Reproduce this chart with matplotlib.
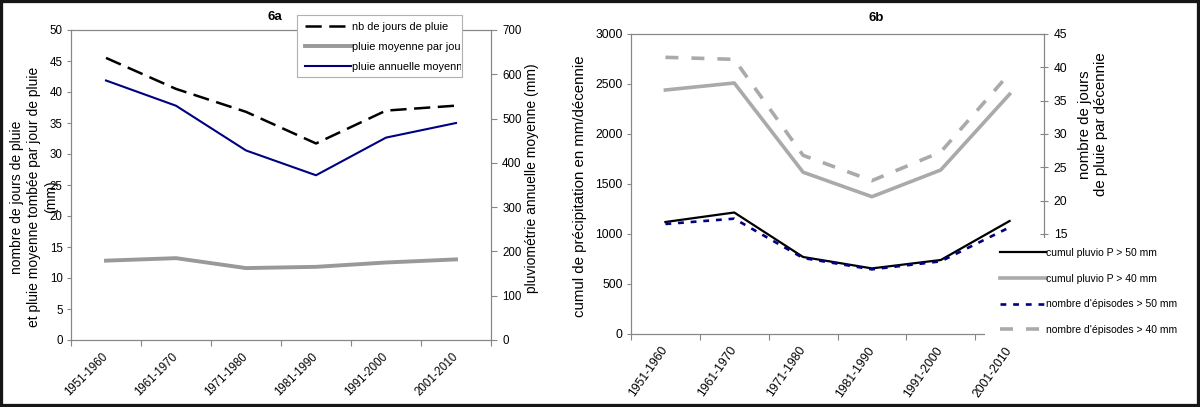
import matplotlib
matplotlib.use("Agg")
import matplotlib.pyplot as plt
from matplotlib.patches import Rectangle
from matplotlib.transforms import Bbox, TransformedBbox

plt.rcParams['font.family'] = ['Liberation Sans', 'DejaVu Sans']

# ---------------- data ----------------
decades = ["1951-1960", "1961-1970", "1971-1980", "1981-1990", "1991-2000", "2001-2010"]

# 6a
nb_jours_pluie = [45.5, 40.5, 36.8, 31.7, 37.0, 37.8]
pluie_moy_jour = [12.8, 13.2, 11.6, 11.8, 12.5, 13.0]
pluie_annuelle = [586, 529, 428, 372, 457, 490]

# 6b
cumul_50 = [1120, 1215, 770, 656, 740, 1130]
cumul_40 = [2440, 2510, 1618, 1373, 1640, 2398]
episodes_50 = [16.5, 17.3, 11.4, 9.7, 10.9, 16.0]
episodes_40 = [41.5, 41.2, 26.8, 23.0, 27.3, 39.1]

W, H = 1200, 407
fig = plt.figure(figsize=(W / 100, H / 100), dpi=100)
fig.patch.set_facecolor('white')

SP = '#868686'

def fx(px):
    return px / W

def fy(py):
    return 1 - py / H

def style_axes(ax, xs, tick_fs, rot, pad):
    ax.set_xlim(-0.5, len(xs) - 0.5)
    ax.set_xticks(range(len(xs)))
    ax.set_xticklabels(xs, rotation=rot, ha='right', va='center',
                       rotation_mode='anchor', fontsize=tick_fs)
    ax.set_xticks([i - 0.5 for i in range(len(xs) + 1)], minor=True)
    ax.tick_params(axis='x', which='major', length=0, pad=pad)
    ax.tick_params(axis='x', which='minor', length=4, color=SP, width=0.8, direction='out')
    for s in ax.spines.values():
        s.set_color(SP)
        s.set_linewidth(0.8)
    ax.tick_params(axis='y', length=3, color=SP, width=0.8, labelsize=tick_fs, pad=3)

x = list(range(len(decades)))

# ---------------- 6a ----------------
FS_A = 8.3
ax1 = fig.add_axes([fx(71), fy(340), fx(491 - 71), (340 - 30) / H])
style_axes(ax1, decades, FS_A, 45, 11)
ax1.set_ylim(0, 50)
ax1.set_yticks(range(0, 51, 5))
l1, = ax1.plot(x, nb_jours_pluie, color='black', lw=1.8, ls=(0, (6.5, 3)),
               label='nb de jours de pluie')
l2, = ax1.plot(x, pluie_moy_jour, color='#999999', lw=2.8,
               label='pluie moyenne par jour')
ax1.set_ylabel("nombre de jours de pluie\net pluie moyenne tombée par jour de pluie\n(mm)",
               fontsize=10, va='center', linespacing=1.25)
ax1.yaxis.set_label_coords((34 - 71) / 420, (340 - 197) / 310)

ax1r = ax1.twinx()
ax1r.set_ylim(0, 700)
ax1r.set_yticks(range(0, 701, 100))
for s in ax1r.spines.values():
    s.set_color(SP)
    s.set_linewidth(0.8)
ax1r.tick_params(axis='y', length=4, color=SP, width=0.8, labelsize=FS_A, pad=4)
l3, = ax1r.plot(x, pluie_annuelle, color='#000080', lw=1.5,
                label='pluie annuelle moyenne')
ax1r.set_ylabel("pluviométrie annuelle moyenne (mm)", fontsize=10,
                va='center', rotation=90)
ax1r.yaxis.set_label_coords((532 - 71) / 420, (340 - 178) / 310)

fig.text(fx(275), fy(17), "6a", ha='center', va='center', fontsize=9.5, fontweight='bold')

# legend box 6a
fig.add_artist(Rectangle((fx(297), fy(77)), fx(462 - 297), (77 - 15) / H,
                         transform=fig.transFigure, facecolor='white',
                         edgecolor='#b0b0b0', lw=0.8, zorder=2))
leg1 = fig.legend(handles=[l1, l2, l3], loc='upper left',
                  bbox_to_anchor=(fx(305), fy(22)), frameon=False,
                  fontsize=7.9, borderpad=0, borderaxespad=0,
                  handlelength=4.2, handletextpad=0.05, labelspacing=0.92)
leg1.set_zorder(6)
clip1 = TransformedBbox(Bbox.from_extents(fx(297), fy(77), fx(461), fy(15)), fig.transFigure)
for t in leg1.get_texts():
    t.set_clip_box(clip1)
    t.set_clip_on(True)

# ---------------- 6b ----------------
FS_B = 8.7
ax2 = fig.add_axes([fx(631), fy(334), fx(1044 - 631), (334 - 34) / H])
style_axes(ax2, decades, FS_B, 55, 10)
ax2.set_ylim(0, 3000)
ax2.set_yticks(range(0, 3001, 500))
m1, = ax2.plot(x, cumul_50, color='black', lw=1.6, label='cumul pluvio P > 50 mm')
m2, = ax2.plot(x, cumul_40, color='#aaaaaa', lw=2.6, label='cumul pluvio P > 40 mm')
ax2.set_ylabel("cumul de précipitation en mm/décennie", fontsize=10.8, va='center')
ax2.yaxis.set_label_coords((580 - 631) / 413, (334 - 186.5) / 300)

ax2r = ax2.twinx()
ax2r.set_ylim(0, 45)
ax2r.set_yticks(range(15, 46, 5))
for s in ax2r.spines.values():
    s.set_color(SP)
    s.set_linewidth(0.8)
ax2r.tick_params(axis='y', length=6, color=SP, width=0.8, labelsize=FS_B,
                 pad=4, direction='inout')
m3, = ax2r.plot(x, episodes_50, color='#000080', lw=1.9, ls=(0, (2.2, 2.6)),
                label="nombre d'épisodes > 50 mm")
m4, = ax2r.plot(x, episodes_40, color='#aaaaaa', lw=2.6, ls=(0, (3.6, 3.6)),
                label="nombre d'épisodes > 40 mm")
ax2r.set_ylabel("nombre de jours\nde pluie par décennie", fontsize=10.8,
                va='center', rotation=90, linespacing=1.2)
ax2r.yaxis.set_label_coords((1093 - 631) / 413, (334 - 124.5) / 300)

fig.text(fx(876), fy(18), "6b", ha='center', va='center', fontsize=9.5, fontweight='bold')

# white legend area 6b
fig.add_artist(Rectangle((fx(985), fy(342)), fx(1197 - 985), (342 - 238) / H,
                         transform=fig.transFigure, facecolor='white',
                         edgecolor='none', zorder=2))
leg2 = fig.legend(handles=[m1, m2, m3, m4], loc='upper left',
                  bbox_to_anchor=(fx(1000), fy(248)), frameon=False,
                  fontsize=7.5, borderpad=0, borderaxespad=0,
                  handlelength=4.4, handletextpad=0.05, labelspacing=1.5)
leg2.set_zorder(6)

# outer frame
fig.add_artist(Rectangle((0, 0), 1, 1, transform=fig.transFigure, fill=False,
                         edgecolor='#161616', lw=4.5, zorder=10, clip_on=False))

fig.savefig("out.png", dpi=100)
